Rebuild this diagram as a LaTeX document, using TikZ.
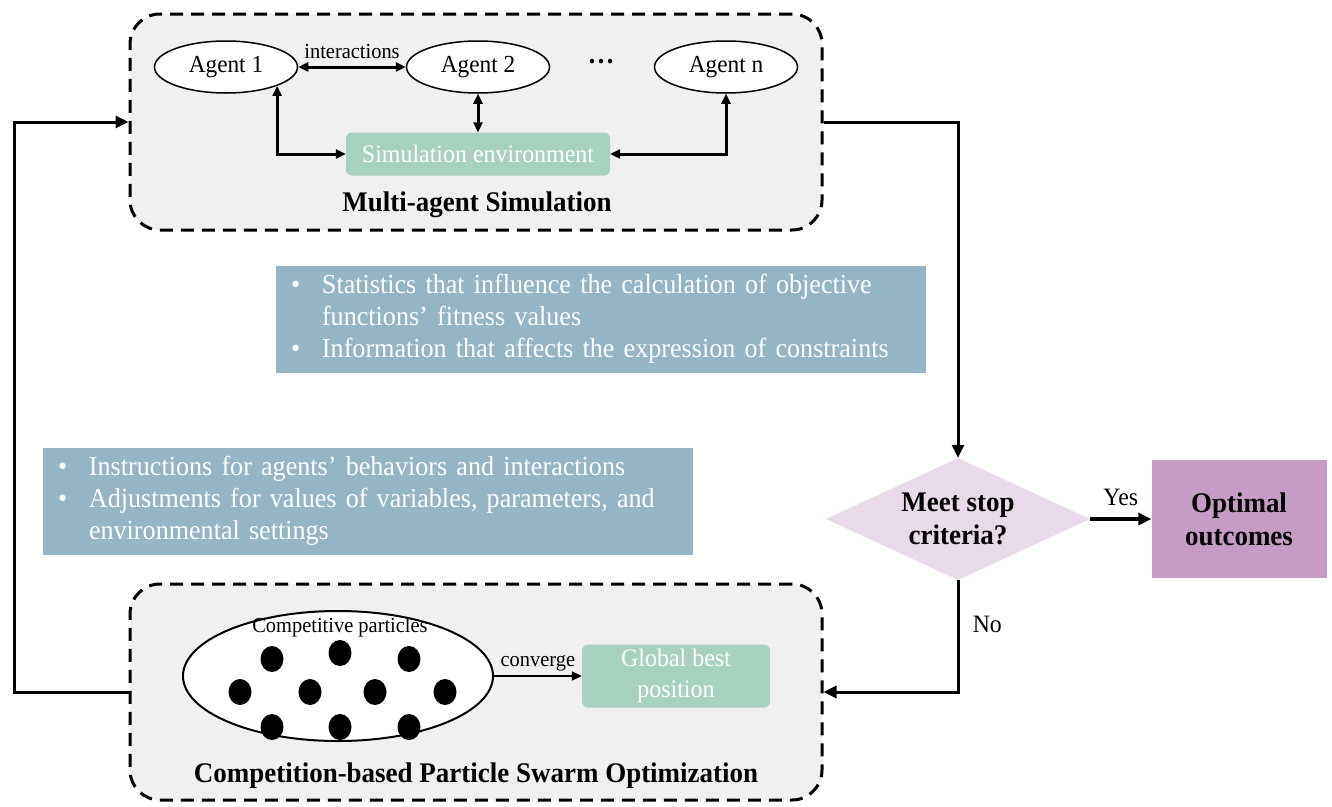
\documentclass[tikz,border=0pt]{standalone}
\usepackage{fontspec}
\setmainfont[FakeStretch=0.95]{Liberation Serif}
\usetikzlibrary{shapes.geometric,arrows.meta}

\definecolor{panelgray}{HTML}{F0F0F0}
\definecolor{envgreen}{HTML}{A8D1C0}
\definecolor{infoblue}{HTML}{95B5C5}
\definecolor{critpink}{HTML}{E8DAE8}
\definecolor{outpurple}{HTML}{C59CC3}

\newcommand{\bpt}{\makebox[31pt][l]{\textbullet}}
\newcommand{\ind}{\hspace*{31pt}}

\begin{document}
\begin{tikzpicture}[x=1pt,y=-1pt,
    panel/.style={draw, line width=3pt, dash pattern=on 13pt off 8pt, rounded corners=30pt, fill=panelgray, minimum width=692pt, minimum height=216pt},
    agent/.style={ellipse, draw, line width=1.5pt, fill=white, minimum width=143pt, minimum height=52pt, inner sep=0pt, font=\fontsize{24.5}{29}\selectfont},
    greenbox/.style={fill=envgreen, rounded corners=6pt, text=white, align=center, font=\fontsize{25.2}{31}\selectfont},
    infobox/.style={fill=infoblue, text=white, minimum width=650pt, minimum height=107pt, text width=620pt, align=left, font=\fontsize{27.5}{32}\selectfont},
    small/.style={font=\fontsize{21.5}{25}\selectfont},
    label/.style={font=\fontsize{25}{30}\selectfont},
    title/.style={font=\fontsize{28.4}{33}\selectfont\bfseries},
    flow/.style={line width=3pt, -{Triangle[length=13pt,width=12pt]}},
    link/.style={line width=3pt, {Triangle[length=10pt,width=9pt]}-{Triangle[length=10pt,width=9pt]}},
    particle/.style={ellipse, fill=black, minimum width=23pt, minimum height=26pt, inner sep=0pt}]
    \useasboundingbox (0,0) rectangle (1332,806);

    % multi-agent simulation
    \node[panel] (msim) at (476,122) {};
    \node[agent] (a1) at (226,67) {Agent 1};
    \node[agent] (a2) at (478,67) {Agent 2};
    \node[title] (adots) at (601,62) {\ldots};
    \node[agent] (an) at (726,67) {Agent n};
    \node[greenbox, minimum width=264pt, minimum height=43pt] (env) at (478,154) {Simulation environment};
    \node[title] (mtitle) at (477,205) {Multi-agent Simulation};

    \draw[link] (a1) -- node[small, above=3pt] (inter) {interactions} (a2);
    \draw[link] (a2) -- (env);
    \draw[link] (a1.south east) |- (env.west);
    \draw[link] (an.south) |- (env.east);

    % particle swarm
    \node[panel] (cpso) at (476,692) {};
    \node[ellipse, draw, line width=2pt, fill=white, minimum width=310pt, minimum height=130pt] (swarm) at (338,676) {};
    \node[small] (ctitle) at (340,627) {Competitive particles};
    \foreach \px/\py [count=\i] in {272/659, 340/653, 409/659, 240/692, 310/692, 375/692, 445/692, 272/727, 340/727, 409/727}
        \node[particle] (p\i) at (\px,\py) {};
    \node[greenbox, minimum width=188pt, minimum height=63pt] (gbest) at (676,676) {Global best\\position};
    \draw[line width=2pt, -{Triangle[length=10pt,width=9pt]}] (swarm.east) -- node[small, above=1pt] (conv) {converge} (gbest.west);
    \node[title] (ptitle) at (476,776) {Competition-based Particle Swarm Optimization};

    % exchanged information
    \node[infobox] (stats) at (601,319) {\bpt Statistics that influence the calculation of objective\\
        \ind functions' fitness values\\
        \bpt Information that affects the expression of constraints};
    \node[infobox] (instr) at (368,501) {\bpt Instructions for agents' behaviors and interactions\\
        \bpt Adjustments for values of variables, parameters, and\\
        \ind environmental settings};

    % stop check
    \node[diamond, shape aspect=2.16, fill=critpink, minimum width=264pt, minimum height=122pt, inner sep=0pt, align=center, title] (crit) at (958,519) {Meet stop\\criteria?};
    \node[fill=outpurple, minimum width=175pt, minimum height=118pt, align=center, title] (opt) at (1239,519) {Optimal\\outcomes};
    \coordinate (back) at (14,400);

    \draw[flow, line width=4pt] (crit) -- node[above=8pt, label] (yes) {Yes} (opt);
    \draw[flow] (msim.east) -| (crit.north);
    \draw[flow] (crit.south) |- node[pos=0.2, right=10pt, label] (no) {No} (cpso.east);
    \draw[flow] (cpso.west) -| (back) |- (msim.west);
\end{tikzpicture}
\end{document}
